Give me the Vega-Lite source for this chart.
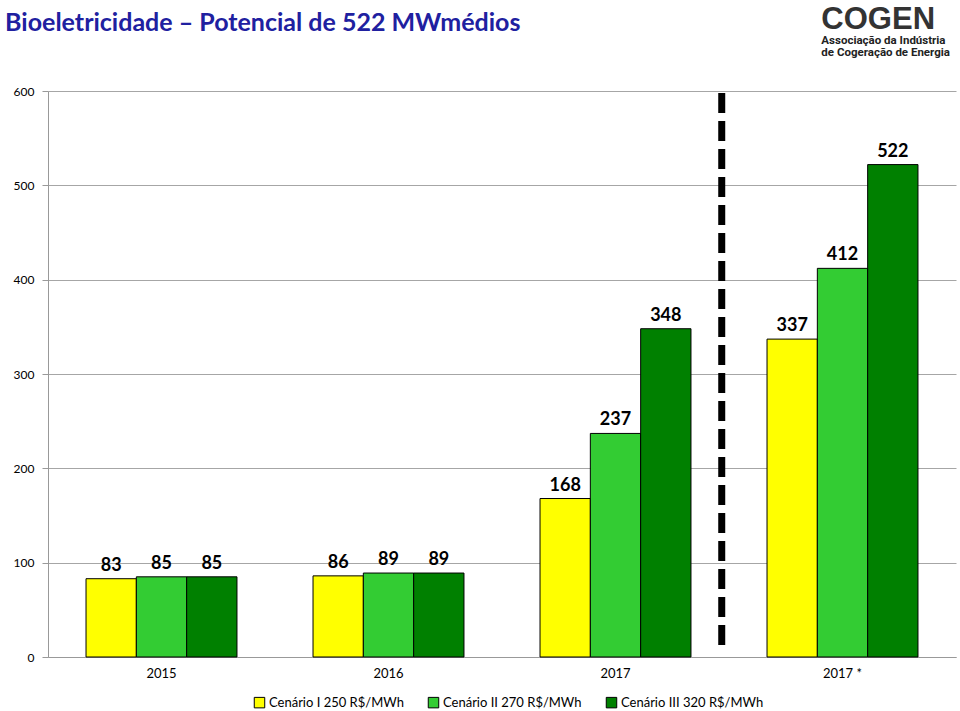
{
  "$schema": "https://vega.github.io/schema/vega-lite/v6.json",
  "width": 908,
  "height": 566,
  "autosize": {"type": "none"},
  "padding": {"left": 48, "top": 91, "right": 4, "bottom": 54},
  "background": "white",
  "datasets": {
    "bars": [
      {"ano": "2015", "cenario": "Cenário I 250 R$/MWh", "valor": 83},
      {"ano": "2015", "cenario": "Cenário II 270 R$/MWh", "valor": 85},
      {"ano": "2015", "cenario": "Cenário III 320 R$/MWh", "valor": 85},
      {"ano": "2016", "cenario": "Cenário I 250 R$/MWh", "valor": 86},
      {"ano": "2016", "cenario": "Cenário II 270 R$/MWh", "valor": 89},
      {"ano": "2016", "cenario": "Cenário III 320 R$/MWh", "valor": 89},
      {"ano": "2017", "cenario": "Cenário I 250 R$/MWh", "valor": 168},
      {"ano": "2017", "cenario": "Cenário II 270 R$/MWh", "valor": 237},
      {"ano": "2017", "cenario": "Cenário III 320 R$/MWh", "valor": 348},
      {"ano": "2017 *", "cenario": "Cenário I 250 R$/MWh", "valor": 337},
      {"ano": "2017 *", "cenario": "Cenário II 270 R$/MWh", "valor": 412},
      {"ano": "2017 *", "cenario": "Cenário III 320 R$/MWh", "valor": 522}
    ]
  },
  "layer": [
    {
      "data": {"name": "bars"},
      "mark": {"type": "bar", "stroke": "#000000", "strokeWidth": 1},
      "encoding": {
        "x": {
          "field": "ano",
          "type": "nominal",
          "sort": ["2015", "2016", "2017", "2017 *"],
          "scale": {"paddingInner": 0.335, "paddingOuter": 0.1675},
          "axis": {
            "title": null,
            "labelAngle": 0,
            "labelFont": "Lato",
            "labelFontSize": 13,
            "labelColor": "#000000",
            "labelPadding": 10,
            "ticks": false,
            "domainColor": "#999999"
          }
        },
        "xOffset": {
          "field": "cenario",
          "type": "nominal",
          "sort": ["Cenário I 250 R$/MWh", "Cenário II 270 R$/MWh", "Cenário III 320 R$/MWh"],
          "scale": {"paddingInner": 0, "paddingOuter": 0}
        },
        "y": {
          "field": "valor",
          "type": "quantitative",
          "scale": {"domain": [0, 600], "nice": false},
          "axis": {
            "title": null,
            "values": [0, 100, 200, 300, 400, 500, 600],
            "labelFont": "Lato",
            "labelFontSize": 12,
            "labelColor": "#000000",
            "gridColor": "#a6a6a6",
            "domainColor": "#999999",
            "tickColor": "#999999",
            "tickSize": 6,
            "labelPadding": 8
          }
        },
        "color": {
          "field": "cenario",
          "type": "nominal",
          "sort": ["Cenário I 250 R$/MWh", "Cenário II 270 R$/MWh", "Cenário III 320 R$/MWh"],
          "scale": {
            "domain": ["Cenário I 250 R$/MWh", "Cenário II 270 R$/MWh", "Cenário III 320 R$/MWh"],
            "range": ["#FFFF00", "#33CC33", "#008000"]
          },
          "legend": {
            "title": null,
            "orient": "none",
            "legendX": 205,
            "legendY": 605,
            "direction": "horizontal",
            "symbolType": "square",
            "symbolSize": 110,
            "symbolStrokeColor": "#000000",
            "symbolStrokeWidth": 1,
            "symbolOpacity": 1,
            "labelFont": "Lato",
            "labelFontSize": 13,
            "labelColor": "#000000",
            "labelOffset": 3,
            "columnPadding": 22
          }
        }
      }
    },
    {
      "data": {"name": "bars"},
      "mark": {"type": "text", "dy": -13, "font": "Lato", "fontSize": 18, "fontWeight": "bold", "color": "#000000"},
      "encoding": {
        "x": {"field": "ano", "type": "nominal", "sort": ["2015", "2016", "2017", "2017 *"]},
        "xOffset": {"field": "cenario", "type": "nominal", "sort": ["Cenário I 250 R$/MWh", "Cenário II 270 R$/MWh", "Cenário III 320 R$/MWh"]},
        "y": {"field": "valor", "type": "quantitative"},
        "text": {"field": "valor", "type": "quantitative"}
      }
    },
    {
      "data": {"values": [{}]},
      "mark": {"type": "rule", "stroke": "#000000", "strokeWidth": 7, "strokeDash": [20, 8]},
      "encoding": {
        "x": {"datum": "2017 *", "bandPosition": -0.3},
        "y": {"datum": 598},
        "y2": {"datum": 7}
      }
    },
    {
      "data": {"values": [{}]},
      "mark": {"type": "text", "text": "Bioeletricidade – Potencial de 522 MWmédios", "align": "left", "baseline": "alphabetic", "font": "Lato", "fontSize": 25, "fontWeight": "bold", "color": "#2020A0", "clip": false},
      "encoding": {
        "x": {"datum": "2015", "bandPosition": -0.536},
        "y": {"datum": 664}
      }
    },
    {
      "data": {"values": [{}]},
      "mark": {"type": "text", "text": "COGEN", "align": "left", "baseline": "alphabetic", "font": "Liberation Sans", "fontSize": 31, "fontWeight": "bold", "color": "#333333", "clip": false},
      "encoding": {
        "x": {"datum": "2017 *", "bandPosition": 0.36},
        "y": {"datum": 665.7}
      }
    },
    {
      "data": {"values": [{}]},
      "mark": {"type": "text", "text": "Associação da Indústria", "align": "left", "baseline": "alphabetic", "font": "Roboto", "fontSize": 11.5, "fontWeight": "bold", "color": "#222222", "clip": false},
      "encoding": {
        "x": {"datum": "2017 *", "bandPosition": 0.36},
        "y": {"datum": 649.9}
      }
    },
    {
      "data": {"values": [{}]},
      "mark": {"type": "text", "text": "de Cogeração de Energia", "align": "left", "baseline": "alphabetic", "font": "Roboto", "fontSize": 11.5, "fontWeight": "bold", "color": "#222222", "clip": false},
      "encoding": {
        "x": {"datum": "2017 *", "bandPosition": 0.36},
        "y": {"datum": 637.2}
      }
    }
  ],
  "config": {"view": {"stroke": null}}
}
